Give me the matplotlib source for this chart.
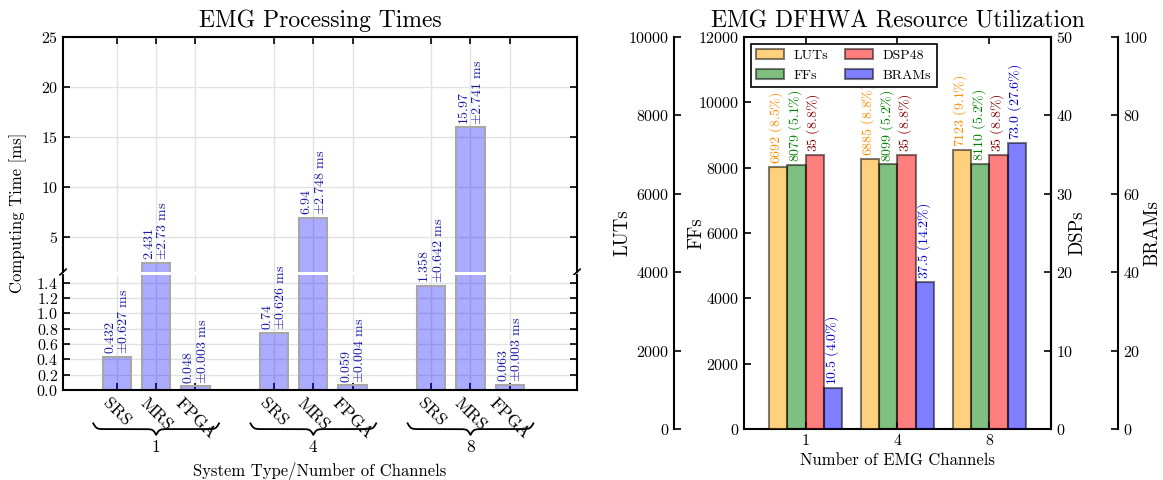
import numpy as np
import matplotlib
matplotlib.use("Agg")
import matplotlib.pyplot as plt
from matplotlib.transforms import blended_transform_factory

plt.rcParams['font.family'] = 'serif'
plt.rcParams['font.serif'] = ['cmr10', 'DejaVu Serif']
plt.rcParams['mathtext.fontset'] = 'cm'
plt.rcParams['axes.formatter.use_mathtext'] = True
plt.rcParams['axes.unicode_minus'] = False

# processing times (ms), one row per channel count
channels = ['1', '4', '8']
systems = ['SRS', 'MRS', 'FPGA']
time_mean = [[0.432, 2.431, 0.048],
             [0.74, 6.94, 0.059],
             [1.358, 15.97, 0.063]]
time_std = [[0.627, 2.73, 0.003],
            [0.626, 2.748, 0.004],
            [0.642, 2.741, 0.003]]

# resource utilization
luts = [6692, 6885, 7123]
luts_pct = [8.5, 8.8, 9.1]
ffs = [8079, 8099, 8110]
ffs_pct = [5.1, 5.2, 5.2]
dsps = [35, 35, 35]
dsps_pct = [8.8, 8.8, 8.8]
brams = [10.5, 37.5, 73.0]
brams_pct = [4.0, 14.2, 27.6]

fig = plt.figure(figsize=(11.63, 4.8), dpi=100)

# ---------------- left: processing times with broken axis ----------------
ax_top = fig.add_axes([0.0542, 0.4333, 0.4419, 0.4896])
ax_bot = fig.add_axes([0.0542, 0.1875, 0.4419, 0.2396])
ax_bot.set_zorder(2)

pos = [4 * g + i for g in range(len(channels)) for i in range(len(systems))]
means = [m for row in time_mean for m in row]
stds = [s for row in time_std for s in row]
txt_col = '#1a1aa8'

for ax in (ax_top, ax_bot):
    ax.bar(pos, means, width=0.72, facecolor=(0, 0, 1, 0.33),
           edgecolor='#a8a8a8', linewidth=1.5)
    ax.set_xlim(-1.37, 11.71)
    ax.set_xticks(pos)
    ax.grid(True, color='#e2e2e2', linewidth=1)
    ax.set_axisbelow(True)
    for sp in ax.spines.values():
        sp.set_linewidth(1.5)
    ax.tick_params(direction='in', labelsize=11.5, right=True, length=5, width=1.2)

ax_top.set_ylim(1.5, 25)
ax_top.set_yticks([5, 10, 15, 20, 25])
ax_top.spines['bottom'].set_visible(False)
ax_top.tick_params(bottom=False, labelbottom=False, top=True)

ax_bot.set_ylim(0, 1.5)
ax_bot.set_yticks(np.arange(0, 1.5, 0.2))
ax_bot.spines['top'].set_visible(False)
ax_bot.tick_params(top=False)
ax_bot.set_xticklabels(systems * len(channels), rotation=-45, ha='center', fontsize=12.5)

# break marks
d = 0.006
for x in (0, 1):
    ax_top.plot([x - d, x + d], [-0.012, 0.012], transform=ax_top.transAxes,
                color='k', lw=1.2, clip_on=False)

for p, m, s in zip(pos, means, stds):
    ax = ax_top if m > 1.5 else ax_bot
    label = f'$\\mathrm{{{m:g}}}$\n$\\pm\\mathrm{{{s:g}\\ ms}}$'
    ax.annotate(label, xy=(p, m), xytext=(0, 2),
                textcoords='offset points', rotation=90, ha='center', va='bottom',
                multialignment='left', fontsize=10, color=txt_col,
                annotation_clip=False, linespacing=1.05)

# braces under groups
trans = blended_transform_factory(ax_bot.transData, ax_bot.transAxes)


def brace(ax, x0, x1, ytop, depth, beta=80):
    u = np.linspace(0, 0.5, 200)
    y = 1 / (1 + np.exp(-beta * u)) + 1 / (1 + np.exp(-beta * (u - 0.5)))
    yy = np.concatenate([y, y[::-1]])
    xx = x0 + np.concatenate([u, 1 - u[::-1]]) * (x1 - x0)
    ax.plot(xx, ytop - (yy - 0.5) * depth, color='k', lw=1.3,
            transform=trans, clip_on=False)


for g, ch in enumerate(channels):
    first, last = pos[3 * g], pos[3 * g + 2]
    brace(ax_bot, first - 0.6, last + 0.6, -0.29, 0.1)
    ax_bot.text((first + last) / 2, -0.5, ch, transform=trans,
                ha='center', va='center', fontsize=12.5)

ax_bot.text(0.5, -0.70, 'System Type/Number of Channels', transform=ax_bot.transAxes,
            ha='center', va='center', fontsize=12)
fig.text(0.016, 0.556, 'Computing Time [ms]', rotation=90, ha='center',
         va='center', fontsize=12)
ax_top.set_title('EMG Processing Times', fontsize=17, pad=7)

# ---------------- right: resource utilization ----------------
ax_ff = fig.add_axes([0.6397, 0.1063, 0.2640, 0.8167])
ax_lut = ax_ff.twinx()
ax_dsp = ax_ff.twinx()
ax_bram = ax_ff.twinx()

ax_lut.spines['left'].set_position(('axes', -0.228))
ax_lut.yaxis.set_ticks_position('left')
ax_lut.yaxis.set_label_position('left')
ax_bram.spines['right'].set_position(('axes', 1.218))

for ax in (ax_lut, ax_dsp, ax_bram):
    for k in ('top', 'bottom', 'left', 'right'):
        ax.spines[k].set_visible(False)
ax_lut.spines['left'].set_visible(True)
ax_dsp.spines['right'].set_visible(True)
ax_bram.spines['right'].set_visible(True)

for ax in (ax_ff, ax_lut, ax_dsp, ax_bram):
    for sp in ax.spines.values():
        sp.set_linewidth(1.5)
    ax.tick_params(direction='in', labelsize=11.5, length=5, width=1.2)

x = np.arange(len(channels))
w = 0.2
series = [
    (ax_lut, luts, luts_pct, 'orange', 'darkorange', 'LUTs', -1.5, (0, 10000), 2000),
    (ax_ff, ffs, ffs_pct, 'green', 'green', 'FFs', -0.5, (0, 12000), 2000),
    (ax_dsp, dsps, dsps_pct, 'red', 'darkred', 'DSP48', 0.5, (0, 50), 10),
    (ax_bram, brams, brams_pct, 'blue', 'mediumblue', 'BRAMs', 1.5, (0, 100), 20),
]
handles = []
for ax, vals, pcts, col, tcol, lab, off, lim, step in series:
    b = ax.bar(x + off * w, vals, width=w, color=col, alpha=0.5,
               edgecolor='k', linewidth=1.5, label=lab)
    handles.append(b)
    ax.set_ylim(*lim)
    ax.set_yticks(np.arange(lim[0], lim[1] + 1, step))
    for xi, v, pc in zip(x + off * w, vals, pcts):
        s = f'{v:.1f}' if isinstance(v, float) else f'{v}'
        ax.annotate(f'$\\mathrm{{{s}\\ ({pc}\\%)}}$', xy=(xi, v), xytext=(-1, 2),
                    textcoords='offset points', rotation=90, ha='center',
                    va='bottom', fontsize=10, color=tcol)

ax_ff.set_xlim(-0.67, 2.67)
ax_ff.set_xticks(x)
ax_ff.set_xticklabels(channels)
ax_ff.tick_params(axis='x', top=True)
ax_ff.set_xlabel('Number of EMG Channels', fontsize=12)
ax_ff.set_ylabel('FFs', fontsize=13.5)
ax_lut.set_ylabel('LUTs', fontsize=13.5)
ax_dsp.set_ylabel('DSPs', fontsize=13.5)
ax_bram.set_ylabel('BRAMs', fontsize=13.5)
ax_ff.yaxis.set_label_coords(-0.124, 0.5)
ax_lut.yaxis.set_label_coords(-0.365, 0.5)
ax_dsp.yaxis.set_label_coords(1.058, 0.5)
ax_bram.yaxis.set_label_coords(1.30, 0.5)
ax_ff.set_title('EMG DFHWA Resource Utilization', fontsize=17, pad=7)

leg = ax_bram.legend(handles=handles, loc='upper left', ncol=2, fontsize=10,
                     fancybox=False, edgecolor='k', framealpha=1,
                     columnspacing=1.2, handletextpad=0.7)
leg.get_frame().set_linewidth(1.2)

fig.savefig('out.png', dpi=100)
